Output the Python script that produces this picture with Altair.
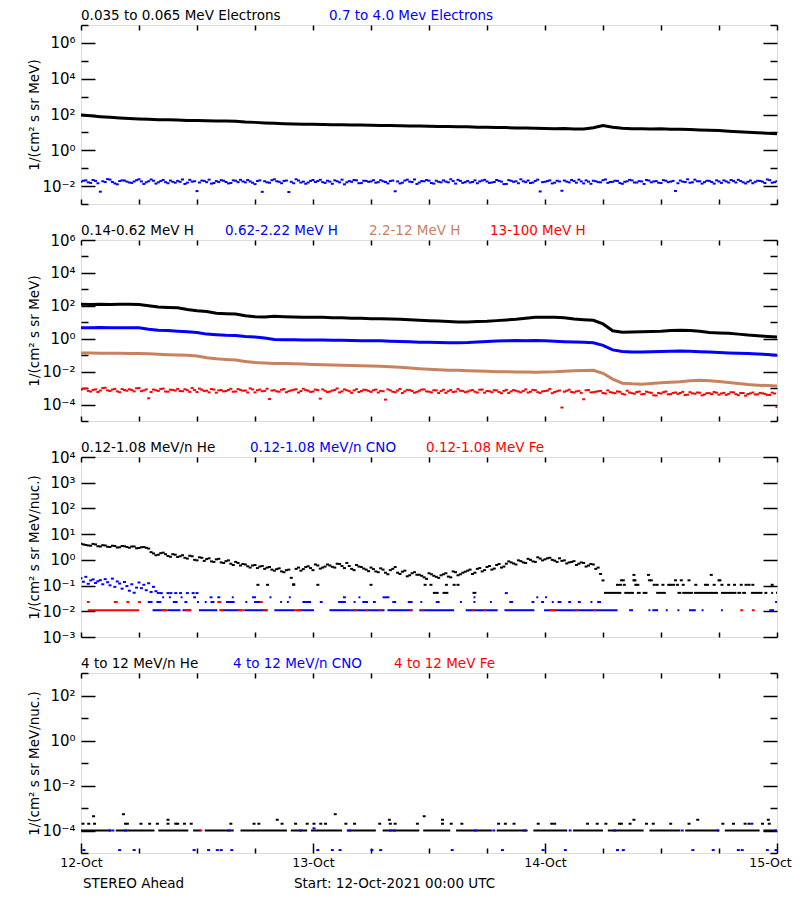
import math
import altair as alt
import pandas as pd

FONT = "DejaVu Sans"
BLACK, BLUE, BROWN, RED = "#000000", "#0000FF", "#C8825F", "#FF0000"

# ---------------- axis / label data ----------------
day_hours = [0, 24, 48, 72]
day_labels = ["12-Oct", "13-Oct", "14-Oct", "15-Oct"]
six_hour_ticks = [0, 6, 12, 18, 24, 30, 36, 42, 48, 54, 60, 66, 72]

# ---------------- panel 1 : electrons (log10 flux) ----------------
p1_domain = [1e-3, 1e7]
p1_label_vals = [1e-2, 1e0, 1e2, 1e4, 1e6]
p1_labels = ["10⁻²", "10⁰", "10²", "10⁴", "10⁶"]
p1_titles = ["0.035 to 0.065 MeV Electrons", "0.7 to 4.0 Mev Electrons"]
# hourly
p1_low_e = [1.97, 1.93, 1.88, 1.84, 1.80, 1.77, 1.75, 1.73, 1.71, 1.71, 1.69, 1.67, 1.67, 1.65, 1.63, 1.63,
            1.62, 1.58, 1.56, 1.53, 1.51, 1.49, 1.47, 1.46, 1.45, 1.44, 1.43, 1.43, 1.41, 1.41, 1.40, 1.38,
            1.39, 1.37, 1.36, 1.36, 1.35, 1.33, 1.33, 1.31, 1.31, 1.29, 1.29, 1.27, 1.27, 1.25, 1.24, 1.23,
            1.22, 1.20, 1.22, 1.19, 1.19, 1.26, 1.38, 1.29, 1.23, 1.21, 1.21, 1.19, 1.20, 1.18, 1.17, 1.16,
            1.14, 1.12, 1.10, 1.07, 1.04, 1.01, 0.98, 0.95, 0.92]
# half-hourly, on the hour / at quarter past
p1_high_e = [-1.75, -1.68, -1.82, -1.71, -2.31, -1.77, -1.64, -1.85, -1.72, -1.69,
             -1.80, -1.74, -1.62, -1.88, -1.73, -1.70, -1.79, -1.66, -1.84, -1.76,
             -1.71, -1.63, -1.81, -1.75, -2.28, -1.69, -1.78, -1.86, -1.72, -1.67,
             -1.77, -1.83, -1.70, -1.65, -1.79, -1.74, -1.89, -1.68, -1.73, -1.81,
             -1.62, -1.76, -1.71, -2.33, -1.84, -1.69, -1.75, -1.80, -1.66, -1.72,
             -1.78, -1.70, -1.87, -1.73, -1.64, -1.79, -1.76, -1.68, -1.83, -1.71,
             -1.74, -1.81, -1.67, -1.77, -1.72, -2.29, -1.85, -1.69, -1.75, -1.63,
             -1.80, -1.73, -1.70, -1.86, -1.76, -1.68, -1.79, -1.72, -1.65, -1.82,
             -1.71, -1.77, -1.84, -1.69, -1.74, -1.80, -1.66, -1.75, -1.88, -1.70,
             -1.73, -1.62, -1.78, -1.83, -1.71, -2.30, -1.76, -1.68, -1.81, -1.74,
             -1.69, -1.79, -1.72, -1.64, -1.85, -1.75, -1.70, -1.78, -1.67, -1.82,
             -1.76, -1.71, -1.87, -1.73, -1.68, -1.80, -1.74, -1.66, -1.79, -1.72,
             -1.83, -1.70, -1.75, -2.27, -1.69, -1.77, -1.81, -1.64, -1.73, -1.78,
             -1.71, -1.86, -1.74, -1.68, -1.80, -1.72, -1.65, -1.79, -1.76, -1.84,
             -1.70, -1.75, -1.63, -1.81, -1.73]
p1_high_e_b = [-1.70, -1.79, -1.66, -1.84, -1.73, -1.61, -1.77, -1.90, -1.68, -1.75,
               -1.82, -1.67, -1.74, -1.79, -1.63, -1.86, -1.72, -1.78, -1.69, -1.81,
               -1.76, -1.88, -1.65, -1.73, -1.80, -1.71, -1.64, -1.83, -1.77, -1.70,
               -1.85, -1.68, -1.78, -1.74, -1.66, -1.81, -1.72, -2.32, -1.79, -1.67,
               -1.73, -1.84, -1.69, -1.76, -1.62, -1.80, -1.87, -1.71, -1.77, -1.65,
               -1.82, -1.75, -1.68, -1.79, -1.90, -1.72, -1.66, -1.84, -1.70, -1.76,
               -1.67, -1.78, -1.73, -1.85, -1.69, -1.74, -1.81, -1.64, -1.77, -1.88,
               -1.72, -1.66, -1.83, -1.70, -1.79, -1.75, -1.62, -1.86, -1.71, -1.78,
               -1.80, -1.68, -1.74, -1.65, -1.82, -1.77, -1.71, -1.89, -1.67, -1.76,
               -1.84, -1.73, -1.69, -1.80, -1.64, -1.78, -1.72, -1.85, -1.70, -2.26,
               -1.75, -1.66, -1.81, -1.74, -1.68, -1.87, -1.73, -1.79, -1.63, -1.77,
               -1.70, -1.83, -1.76, -1.65, -1.80, -1.72, -1.88, -1.69, -1.74, -1.81,
               -1.67, -1.78, -1.71, -1.84, -1.75, -1.62, -1.79, -1.73, -1.86, -1.70,
               -1.77, -1.68, -1.82, -1.74, -1.66, -1.80, -1.72, -1.85, -1.69, -1.76,
               -1.71, -1.83, -1.67, -1.78]

# ---------------- panel 2 : protons ----------------
p2_domain = [1e-5, 1e6]
p2_label_vals = [1e-4, 1e-2, 1e0, 1e2, 1e4, 1e6]
p2_labels = ["10⁻⁴", "10⁻²", "10⁰", "10²", "10⁴", "10⁶"]
p2_titles = ["0.14-0.62 MeV H", "0.62-2.22 MeV H", "2.2-12 MeV H", "13-100 MeV H"]
p2_h1 = [2.09, 2.08, 2.10, 2.08, 2.09, 2.10, 2.08, 2.00, 1.93, 1.90, 1.88, 1.78, 1.70, 1.66, 1.55, 1.52,
         1.50, 1.40, 1.33, 1.32, 1.36, 1.34, 1.32, 1.31, 1.30, 1.30, 1.28, 1.27, 1.25, 1.24, 1.22, 1.22,
         1.20, 1.18, 1.15, 1.12, 1.10, 1.08, 1.05, 1.02, 1.02, 1.04, 1.06, 1.10, 1.14, 1.18, 1.24, 1.30,
         1.30, 1.31, 1.28, 1.20, 1.16, 1.12, 0.90, 0.48, 0.40, 0.41, 0.42, 0.44, 0.46, 0.50, 0.52, 0.50,
         0.45, 0.38, 0.35, 0.33, 0.28, 0.22, 0.18, 0.14, 0.10]
p2_h2 = [0.67, 0.67, 0.68, 0.66, 0.67, 0.66, 0.66, 0.58, 0.52, 0.50, 0.46, 0.42, 0.38, 0.28, 0.24, 0.21,
         0.20, 0.14, 0.10, 0.05, -0.04, -0.06, -0.06, -0.07, -0.07, -0.08, -0.09, -0.10, -0.11, -0.12,
         -0.12, -0.13, -0.15, -0.17, -0.19, -0.21, -0.22, -0.23, -0.24, -0.24, -0.23, -0.20, -0.17, -0.14,
         -0.12, -0.11, -0.12, -0.11, -0.13, -0.15, -0.18, -0.20, -0.22, -0.25, -0.40, -0.68, -0.78, -0.80,
         -0.80, -0.79, -0.77, -0.76, -0.74, -0.76, -0.79, -0.81, -0.84, -0.86, -0.88, -0.90, -0.93, -0.96,
         -1.00]
p2_h3 = [-0.87, -0.87, -0.88, -0.88, -0.89, -0.90, -0.90, -0.92, -0.95, -0.97, -0.99, -1.01, -1.05, -1.15,
         -1.22, -1.26, -1.30, -1.38, -1.45, -1.48, -1.50, -1.51, -1.52, -1.54, -1.56, -1.58, -1.59, -1.61,
         -1.62, -1.64, -1.65, -1.67, -1.70, -1.74, -1.78, -1.82, -1.86, -1.89, -1.91, -1.92, -1.94, -1.96,
         -1.98, -2.00, -2.01, -2.02, -2.02, -2.03, -2.02, -2.01, -1.98, -1.95, -1.93, -1.92, -2.10, -2.45,
         -2.70, -2.74, -2.76, -2.72, -2.68, -2.64, -2.62, -2.56, -2.53, -2.55, -2.60, -2.66, -2.72, -2.78,
         -2.82, -2.85, -2.88]
p2_h4 = [-3.10, -3.02, -3.21, -3.08, -3.15, -2.98, -3.18, -3.05, -3.25, -3.12,
         -3.07, -3.20, -3.00, -3.14, -3.62, -3.09, -3.17, -3.03, -3.22, -3.11,
         -3.05, -3.19, -3.13, -2.99, -3.24, -3.10, -3.16, -3.06, -3.28, -3.12,
         -3.18, -3.04, -3.21, -3.11, -3.15, -3.02, -3.26, -3.09, -3.17, -3.66,
         -3.13, -3.22, -3.06, -3.19, -3.10, -3.27, -3.04, -3.16, -3.21, -3.12,
         -3.08, -3.24, -3.15, -3.02, -3.20, -3.13, -3.29, -3.07, -3.18, -3.11,
         -3.23, -3.09, -3.17, -3.70, -3.14, -3.25, -3.05, -3.20, -3.12, -3.28,
         -3.16, -3.08, -3.22, -3.13, -3.30, -3.10, -3.19, -3.24, -3.06, -3.17,
         -3.21, -3.12, -3.27, -3.09, -3.18, -3.25, -3.14, -3.31, -3.11, -3.20,
         -3.16, -3.26, -3.08, -3.22, -3.13, -3.29, -3.18, -3.05, -3.24, -3.15,
         -3.22, -3.10, -3.27, -3.17, -3.68, -3.12, -3.25, -3.19, -3.30, -3.14,
         -3.28, -3.20, -3.35, -3.16, -3.31, -3.24, -3.38, -3.22, -3.29, -3.45,
         -3.33, -3.21, -3.37, -3.27, -3.30, -3.42, -3.25, -3.34, -3.28, -3.39,
         -3.31, -3.24, -3.40, -3.29, -3.35, -3.26, -3.43, -3.30, -3.36, -3.27,
         -3.38, -3.32, -3.41, -3.28, -4.15]
p2_h4_b = [-3.04, -3.17, -3.11, -3.23, -3.00, -3.14, -3.09, -3.20, -3.06, -3.16,
           -3.12, -3.01, -3.19, -3.08, -3.24, -3.13, -3.05, -3.21, -3.10, -3.15,
           -3.18, -3.07, -3.23, -3.12, -3.03, -3.17, -3.26, -3.09, -3.14, -3.20,
           -3.11, -3.22, -3.06, -3.16, -3.27, -3.08, -3.13, -3.19, -3.04, -3.15,
           -3.20, -3.10, -3.25, -3.14, -3.07, -3.18, -3.12, -3.23, -3.09, -3.64,
           -3.16, -3.21, -3.11, -3.26, -3.08, -3.19, -3.14, -3.24, -3.10, -3.17,
           -3.13, -3.27, -3.19, -3.08, -3.22, -3.15, -3.30, -3.11, -3.18, -3.23,
           -3.09, -3.20, -3.26, -3.14, -3.18, -3.29, -3.12, -3.21, -3.16, -3.25,
           -3.15, -3.22, -3.10, -3.28, -3.19, -3.13, -3.24, -3.17, -3.30, -3.12,
           -3.21, -3.18, -3.27, -3.11, -3.25, -3.20, -3.15, -3.31, -3.19, -4.18,
           -3.16, -3.24, -3.20, -3.29, -3.13, -3.26, -3.22, -3.17, -3.33, -3.25,
           -3.31, -3.23, -3.39, -3.27, -3.34, -3.21, -3.36, -3.26, -3.44, -3.30,
           -3.25, -3.38, -3.29, -3.35, -3.23, -3.40, -3.32, -3.27, -3.44, -3.31,
           -3.36, -3.28, -3.33, -3.41, -3.25, -3.37, -3.30, -3.46, -3.32, -3.39,
           -3.29, -3.35, -3.42, -3.33]

# ---------------- panel 3 : low-energy heavy ions ----------------
p3_domain = [1e-3, 1e4]
p3_label_vals = [1e-3, 1e-2, 1e-1, 1e0, 1e1, 1e2, 1e3, 1e4]
p3_labels = ["10⁻³", "10⁻²", "10⁻¹", "10⁰", "10¹", "10²", "10³", "10⁴"]
p3_titles = ["0.12-1.08 MeV/n He", "0.12-1.08 MeV/n CNO", "0.12-1.08 MeV Fe"]
# He, half-hourly until the drop (on the hour / quarter past)
p3_he = [0.63, 0.58, 0.55, 0.60, 0.52, 0.56, 0.50, 0.54, 0.49, 0.53,
         0.47, 0.52, 0.46, 0.50, 0.44, 0.25, 0.20, 0.28, 0.15, 0.22,
         0.11, 0.18, 0.05, 0.14, -0.02, 0.08, 0.03, -0.06, 0.02, -0.10,
         -0.05, -0.15, -0.08, -0.22, -0.18, -0.30, -0.20, -0.26, -0.35, -0.28,
         -0.42, -0.33, -0.48, -0.38, -0.95, -0.30, -0.36, -0.25, -0.40, -0.22,
         -0.30, -0.18, -0.27, -0.15, -0.24, -0.12, -0.35, -0.20, -0.28, -0.38,
         -0.30, -0.45, -0.33, -0.50, -0.40, -0.28, -0.55, -0.42, -0.60, -0.48,
         -0.58, -0.68, -0.52, -0.62, -0.70, -0.56, -0.65, -0.45, -0.60, -0.50,
         -0.42, -0.55, -0.35, -0.45, -0.28, -0.38, -0.20, -0.30, -0.15, -0.10,
         -0.18, -0.05, -0.12, 0.00, -0.08, 0.05, 0.02, 0.08, -0.03, 0.06,
         -0.02, -0.10, -0.05, -0.15, -0.12, -0.22, -0.18, -0.30, -0.80]
p3_he_b = [0.60, 0.56, 0.62, 0.53, 0.57, 0.51, 0.55, 0.48, 0.54, 0.50,
           0.52, 0.45, 0.49, 0.47, 0.30, 0.18, 0.26, 0.22, 0.12, 0.20,
           0.14, 0.08, 0.16, 0.00, 0.10, -0.04, 0.06, -0.08, 0.04, -0.12,
           -0.02, -0.20, -0.12, -0.16, -0.25, -0.22, -0.32, -0.24, -0.30, -0.38,
           -0.36, -0.45, -0.40, -0.70, -0.35, -0.42, -0.28, -0.32, -0.18, -0.34,
           -0.26, -0.22, -0.30, -0.16, -0.32, -0.24, -0.40, -0.26, -0.34, -0.44,
           -0.36, -0.48, -0.38, -0.56, -0.35, -0.50, -0.46, -0.64, -0.52, -0.58,
           -0.62, -0.74, -0.56, -0.66, -0.60, -0.52, -0.68, -0.48, -0.56, -0.46,
           -0.38, -0.50, -0.32, -0.40, -0.24, -0.34, -0.16, -0.26, -0.06, -0.14,
           -0.02, -0.10, 0.04, -0.06, 0.10, -0.02, 0.06, 0.00, -0.08, -0.04,
           -0.14, -0.08, -0.20, -0.10, -0.26, -0.16, -0.35, -0.55]
# He, single counts (hour segments / points)
p3_he_row_segs = [(54.1, 55.9), (56.2, 57.2), (57.5, 57.9), (58.1, 58.6), (59.5, 60.5), (61.7, 62.1),
                  (62.2, 63.3), (63.4, 65.9), (66.2, 67.8), (67.9, 68.3), (68.4, 68.8), (69.3, 70.5),
                  (70.7, 71.0), (71.4, 71.6), (71.9, 72.0), (36.4, 37.0), (37.4, 38.0), (40.5, 40.9)]
p3_he_row_level = 0.052
p3_he_pts_h = [55.5, 55.8, 56.2, 57.4, 57.6, 59.3, 59.6, 60.2, 60.8, 61.0, 61.3, 61.7, 62.3, 63.6, 64.6,
               64.8, 65.5, 66.3, 67.0, 67.6, 68.3, 68.8, 69.1, 69.5, 71.5, 18.3, 19.3, 22.0, 24.5, 30.0,
               35.6, 36.2, 37.8, 38.6, 39.0,
               55.9, 56.1, 57.2, 57.3, 58.8, 59.0, 61.5, 62.1, 62.9, 66.0, 66.1,
               57.2, 58.7, 65.2]
p3_he_pts_v = [0.107] * 35 + [0.16] * 11 + [0.26] * 3
# CNO early (quarter-hourly, hours 0-8)
p3_cno_early = [-0.72, -0.85, -0.66, -0.93, -0.80, -0.76, -0.90, -0.83,
                -0.79, -0.95, -0.75, -0.87, -0.99, -0.73, -1.05, -0.84,
                -0.92, -1.12, -0.86, -1.02, -1.20, -0.95, -1.28, -1.08,
                -0.88, -1.10, -0.97, -1.18, -0.91, -1.25, -1.05, -1.22, -1.29]
p3_cno_mid_h = [8.3, 9.0, 9.3, 9.8, 10.3, 11.0, 11.6, 12.0, 44.0]
p3_cno_mid_level = 0.051
# CNO / Fe count levels as time segments
p3_cno_l1 = [(7.4, 8.8), (9.0, 10.3), (10.5, 11.4), (12.2, 14.1), (14.5, 16.6), (16.9, 19.3), (20.0, 22.1),
             (22.4, 24.1), (25.7, 27.9), (27.9, 31.4), (31.7, 34.3), (35.0, 38.6), (39.8, 43.1), (43.8, 46.9),
             (47.9, 55.5), (56.7, 57.1), (58.7, 58.9), (59.1, 59.7), (60.5, 60.7), (61.7, 61.9), (62.9, 63.6),
             (64.2, 64.4), (66.2, 66.4), (71.2, 71.7)]
p3_cno_l2 = [(6.9, 7.4), (7.8, 8.3), (9.5, 10.0), (10.7, 11.0), (12.0, 12.2), (12.8, 13.0), (13.4, 13.8),
             (15.0, 15.9), (17.0, 17.2), (17.9, 18.6), (20.6, 20.8), (21.3, 21.5), (22.9, 23.8), (24.7, 25.0),
             (26.6, 27.4), (28.2, 28.4), (29.1, 29.7), (30.2, 30.5), (32.2, 32.6), (33.8, 34.3), (35.1, 35.3),
             (36.7, 37.1), (39.2, 39.4), (40.6, 40.8), (42.3, 42.5), (44.3, 44.7), (46.6, 46.9), (47.6, 47.9),
             (48.7, 48.9), (49.3, 49.7), (50.4, 50.7), (51.4, 51.7), (52.7, 52.9), (53.4, 53.8), (71.8, 72.0)]
p3_cno_l3 = [(8.4, 8.6), (9.1, 9.3), (10.3, 10.5), (11.6, 11.9), (13.3, 13.6), (14.1, 14.4), (15.6, 15.8),
             (17.7, 18.1), (19.5, 19.7), (21.5, 21.7), (27.1, 27.4), (28.7, 28.9), (31.2, 31.9), (40.6, 40.8),
             (47.1, 47.3), (48.0, 48.2)]
p3_fe_l1 = [(0.7, 6.0), (8.3, 9.0), (10.7, 11.4), (14.3, 14.8), (16.2, 16.9), (18.8, 19.3), (22.0, 22.8),
            (28.2, 28.5), (29.4, 29.7), (30.8, 31.1), (34.0, 34.3), (35.2, 35.5), (40.4, 40.7), (41.6, 41.9),
            (48.5, 49.2), (51.1, 51.4), (53.0, 53.3), (68.2, 68.5), (69.4, 69.7)]
p3_fe_l2 = [(0.6, 0.9), (3.4, 3.8), (4.7, 5.0), (5.9, 6.2), (14.1, 14.5), (18.5, 18.8)]
p3_levels = [0.011, 0.023, 0.035]

# ---------------- panel 4 : high-energy heavy ions ----------------
p4_domain = [1e-5, 1e3]
p4_label_vals = [1e-4, 1e-2, 1e0, 1e2]
p4_labels = ["10⁻⁴", "10⁻²", "10⁰", "10²"]
p4_titles = ["4 to 12 MeV/n He", "4 to 12 MeV/n CNO", "4 to 12 MeV Fe"]
p4_he_row = [(0, 3.1), (3.6, 7.6), (8.0, 11.1), (11.6, 12.4), (12.8, 15.8), (16.5, 21.3), (21.7, 23.4),
             (23.8, 27.0), (27.5, 30.5), (31.2, 35.0), (35.4, 38.2), (38.8, 42.5), (43.0, 46.2), (46.8, 50.3),
             (50.9, 54.0), (54.5, 58.2), (58.8, 62.0), (62.5, 66.0), (66.6, 70.2), (70.6, 72.0)]
p4_row_level = 1e-4
p4_he_2_h = [0.2, 0.8, 1.4, 4.6, 4.8, 6.2, 7.1, 7.9, 9.0, 9.8, 10.0, 10.7, 11.4, 15.5, 17.9, 18.4, 20.8,
             22.2, 23.4, 24.1, 24.8, 25.3, 27.4, 28.3, 30.9, 32.0, 32.5, 34.8, 37.4, 38.3, 39.4, 43.2, 43.9,
             44.8, 47.3, 48.7, 49.0, 52.4, 53.4, 54.3, 55.7, 55.9, 56.8, 58.5, 59.2, 61.0, 62.9, 66.4, 67.5,
             68.7, 69.1, 70.5, 71.2]
p4_he_2_level = 2e-4
p4_he_hi_h = [1.3, 4.4, 9.0, 20.3, 26.3, 31.9, 35.5, 37.4, 57.2, 63.8, 71.1]
p4_he_hi_v = [4.3e-4, 5.3e-4, 3e-4, 3e-4, 5.3e-4, 3e-4, 4.3e-4, 3e-4, 3e-4, 3e-4, 3e-4]
p4_cno_low_h = [0.3, 4.0, 5.5, 11.7, 13.2, 14.1, 14.5, 15.6, 24.5, 26.0, 26.8, 30.1, 31.0, 38.4, 43.6, 47.8,
                50.1, 55.5, 56.1, 63.3, 65.4, 68.0, 68.4, 71.0, 71.9]
p4_cno_low_level = 1.35e-5
p4_cno_row_h = [3.0, 3.3, 4.6, 15.3, 22.7, 27.8, 32.0, 32.4, 40.8, 42.7, 45.9, 50.6, 55.2, 62.2, 65.9, 71.9,
                24.1, 69.4]
p4_cno_row_v = [1e-4] * 16 + [1.25e-4, 2e-4]
p4_fe_h = [12.4]
p4_fe_v = [1e-4]

footer_left = "STEREO Ahead"
footer_mid = "Start: 12-Oct-2021 00:00 UTC"

# ---------------- layout constants (styles, not data) ----------------
W = 696
HEIGHTS = [179, 181, 180, 180]
TITLE_X = [[0, 248], [0, 144, 288, 409], [0, 169, 345], [0, 152, 313]]
TFS = 13.5


def xenc(axis=None):
    return alt.X("h:Q", scale=alt.Scale(domain=[0, 72], nice=False, zero=False), axis=axis)


def yenc(dom, axis=None):
    return alt.Y("v:Q", scale=alt.Scale(type="log", domain=dom, nice=False), axis=axis)


def line_layer(logs, step, color, dom, width):
    df = pd.DataFrame({"h": [i * step for i in range(len(logs))], "v": [10 ** l for l in logs]})
    return alt.Chart(df).mark_line(color=color, strokeWidth=width, clip=True).encode(x=xenc(), y=yenc(dom))


def dot_layer(hours, vals, color, dom, size=3):
    df = pd.DataFrame({"h": hours, "v": vals})
    return alt.Chart(df).mark_tick(orient="horizontal", size=size, thickness=2, color=color,
                                   clip=True, opacity=1).encode(x=xenc(), y=yenc(dom))


def series_dots(logs, step, start, color, dom, size=3):
    return dot_layer([start + i * step for i in range(len(logs))], [10 ** l for l in logs], color, dom, size)


def seg_layer(segs, level, color, dom, width=2):
    df = pd.DataFrame({"h": [s[0] for s in segs], "h2": [s[1] for s in segs], "v": [level] * len(segs)})
    return alt.Chart(df).mark_rule(color=color, strokeWidth=width, clip=True).encode(
        x=xenc(), x2="h2:Q", y=yenc(dom))


def label_expr(vals, labs):
    expr = "''"
    for v, s in zip(vals, labs):
        e = round(math.log10(v))
        expr = f"abs(log(datum.value)/LN10 - ({e})) < 0.01 ? '{s}' : " + expr
    return expr


def axis_layers(dom, label_vals, labs, all_major, ytitle, Hp, xlabels, long_day_ticks):
    base = alt.Chart(pd.DataFrame({"h": [0.0], "v": [dom[0]]})).mark_point(opacity=0)
    xexpr = "[" + ",".join(f"'{d}'" for d in day_labels) + "][round(datum.value/24)]"
    ticks_vals = [10.0 ** e for e in range(round(math.log10(dom[0])), round(math.log10(dom[1])) + 1)]
    ysize = 14 if all_major else {"condition": {"test": "abs(round(log(datum.value)/LN10)) % 2 == 0",
                                               "value": 14}, "value": 7}
    xsize_in = {"condition": {"test": "datum.value % 24 == 0", "value": 10}, "value": 5} if long_day_ticks else 5
    lab = base.encode(
        x=xenc(alt.Axis(orient="bottom", values=day_hours, labelExpr=xexpr, labels=xlabels, ticks=False,
                        tickSize=0, domain=False, grid=False, title=None, labelFontSize=12.5,
                        labelPadding=3, labelColor="black", labelFont=FONT, labelFlush=False,
                        labelOffset={"condition": {"test": "datum.value >= 72", "value": -7}, "value": 0})),
        y=yenc(dom, alt.Axis(orient="left", values=label_vals, labelExpr=label_expr(label_vals, labs),
                             ticks=False, tickSize=0, domain=False, grid=False, title=ytitle,
                             titleX=-47, titleY=Hp / 2, titleAngle=270, titleBaseline="middle",
                             titleAlign="center", titleFontSize=TFS, titleFontWeight="normal",
                             titleFont=FONT, titleColor="black", labelPadding=6, labelFontSize=15,
                             labelColor="black", labelFont=FONT, labelFlush=False)),
    )
    tick_a = base.encode(
        x=xenc(alt.Axis(orient="top", offset=-Hp, values=six_hour_ticks, labels=False, domain=False,
                        grid=False, title=None, tickSize=xsize_in, tickColor="black", tickWidth=1.5)),
        y=yenc(dom, alt.Axis(orient="right", offset=-W, values=ticks_vals, labels=False, domain=False,
                             grid=False, title=None, tickSize=ysize, tickColor="black", tickWidth=1.5)),
    )
    tick_b = base.encode(
        x=xenc(alt.Axis(orient="bottom", offset=-Hp, values=six_hour_ticks, labels=False, domain=False,
                        grid=False, title=None, tickSize=5, tickColor="black", tickWidth=1.5)),
        y=yenc(dom, alt.Axis(orient="left", offset=-W, values=ticks_vals, labels=False, domain=False,
                             grid=False, title=None, tickSize=ysize, tickColor="black", tickWidth=1.5)),
    )
    return [lab, tick_a, tick_b]


def title_layers(texts, colors, xs):
    out = []
    for t, c, x in zip(texts, colors, xs):
        out.append(alt.Chart(pd.DataFrame({"h": [0]})).mark_text(
            text=t, color=c, align="left", baseline="alphabetic", fontSize=TFS, font=FONT
        ).encode(x=alt.value(x), y=alt.value(-5)))
    return out


def panel(layers, Hp):
    return alt.layer(*layers).properties(width=W, height=Hp).resolve_scale(
        x="shared", y="shared").resolve_axis(x="independent", y="independent")


# ---- panel 1
H1 = HEIGHTS[0]
L1 = axis_layers(p1_domain, p1_label_vals, p1_labels, False, "1/(cm² s sr MeV)", H1, False, False)
L1 += [series_dots(p1_high_e, 0.5, 0.0, BLUE, p1_domain),
       series_dots(p1_high_e_b, 0.5, 0.25, BLUE, p1_domain),
       line_layer(p1_low_e, 1.0, BLACK, p1_domain, 3)]
L1 += title_layers(p1_titles, [BLACK, BLUE], TITLE_X[0])
c1 = panel(L1, H1)

# ---- panel 2
H2 = HEIGHTS[1]
L2 = axis_layers(p2_domain, p2_label_vals, p2_labels, False, "1/(cm² s sr MeV)", H2, False, False)
L2 += [series_dots(p2_h4, 0.5, 0.0, RED, p2_domain),
       series_dots(p2_h4_b, 0.5, 0.25, RED, p2_domain),
       line_layer(p2_h3, 1.0, BROWN, p2_domain, 3),
       line_layer(p2_h2, 1.0, BLUE, p2_domain, 3),
       line_layer(p2_h1, 1.0, BLACK, p2_domain, 3)]
L2 += title_layers(p2_titles, [BLACK, BLUE, BROWN, RED], TITLE_X[1])
c2 = panel(L2, H2)

# ---- panel 3
H3 = HEIGHTS[2]
L3 = axis_layers(p3_domain, p3_label_vals, p3_labels, True, "1/(cm² s sr MeV/nuc.)", H3, False, False)
L3 += [seg_layer(p3_cno_l1, p3_levels[0], BLUE, p3_domain),
       seg_layer(p3_cno_l2, p3_levels[1], BLUE, p3_domain),
       seg_layer(p3_cno_l3, p3_levels[2], BLUE, p3_domain),
       series_dots(p3_cno_early, 0.25, 0.0, BLUE, p3_domain),
       dot_layer(p3_cno_mid_h, [p3_cno_mid_level] * len(p3_cno_mid_h), BLUE, p3_domain),
       seg_layer(p3_fe_l1, p3_levels[0], RED, p3_domain),
       seg_layer(p3_fe_l2, p3_levels[1], RED, p3_domain),
       seg_layer(p3_he_row_segs, p3_he_row_level, BLACK, p3_domain),
       dot_layer(p3_he_pts_h, p3_he_pts_v, BLACK, p3_domain),
       series_dots(p3_he, 0.5, 0.0, BLACK, p3_domain),
       series_dots(p3_he_b, 0.5, 0.25, BLACK, p3_domain)]
L3 += title_layers(p3_titles, [BLACK, BLUE, RED], TITLE_X[2])
c3 = panel(L3, H3)

# ---- panel 4
H4 = HEIGHTS[3]
L4 = axis_layers(p4_domain, p4_label_vals, p4_labels, False, "1/(cm² s sr MeV/nuc.)", H4, True, True)
L4 += [seg_layer(p4_he_row, p4_row_level, BLACK, p4_domain),
       dot_layer(p4_he_2_h, [p4_he_2_level] * len(p4_he_2_h), BLACK, p4_domain),
       dot_layer(p4_he_hi_h, p4_he_hi_v, BLACK, p4_domain),
       dot_layer(p4_cno_low_h, [p4_cno_low_level] * len(p4_cno_low_h), BLUE, p4_domain),
       dot_layer(p4_cno_row_h, p4_cno_row_v, BLUE, p4_domain),
       dot_layer(p4_fe_h, p4_fe_v, RED, p4_domain)]
L4 += title_layers(p4_titles, [BLACK, BLUE, RED], TITLE_X[3])
L4 += [alt.Chart(pd.DataFrame({"h": [0]})).mark_text(text=footer_left, align="left", baseline="alphabetic",
                                                     fontSize=TFS, font=FONT, color="black"
                                                     ).encode(x=alt.value(2), y=alt.value(H4 + 35)),
       alt.Chart(pd.DataFrame({"h": [0]})).mark_text(text=footer_mid, align="left", baseline="alphabetic",
                                                     fontSize=TFS, font=FONT, color="black"
                                                     ).encode(x=alt.value(213), y=alt.value(H4 + 35))]
c4 = panel(L4, H4)

chart = alt.vconcat(c1, c2, c3, c4, spacing=36, bounds="flush").properties(
    padding={"left": 18, "top": 0, "right": 0, "bottom": 0},
    background="white",
).configure_view(stroke="black", strokeWidth=1.5).configure(font=FONT)

chart.save("out.html", embed_options={"renderer": "svg", "actions": False})
